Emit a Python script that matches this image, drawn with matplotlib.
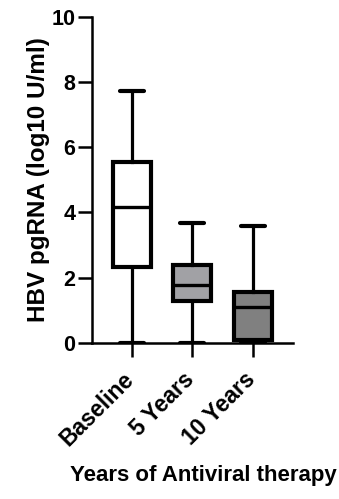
import matplotlib.pyplot as plt
from matplotlib.transforms import ScaledTranslation

plt.rcParams['font.family'] = ['Liberation Sans', 'DejaVu Sans']
plt.rcParams['font.weight'] = 'bold'

# box plot summary per group
groups = ['Baseline', '5 Years', '10 Years']
whisker_low = [0.0, 0.0, 0.0]
q1 = [2.33, 1.29, 0.09]
median = [4.17, 1.78, 1.10]
q3 = [5.55, 2.39, 1.56]
whisker_high = [7.73, 3.68, 3.59]
box_colors = ['white', '#a1a1a5', '#808080']

stats = []
for i in range(len(groups)):
    stats.append({'whislo': whisker_low[i], 'q1': q1[i], 'med': median[i],
                  'q3': q3[i], 'whishi': whisker_high[i], 'fliers': []})

fig = plt.figure(figsize=(3.39, 4.99), dpi=100)
ax = fig.add_axes([0.271, 0.313, 0.593, 0.653])

bp = ax.bxp(stats, positions=[1, 2, 3], widths=0.63, capwidths=0.4,
            patch_artist=True, showfliers=False,
            boxprops=dict(linewidth=3.0, edgecolor='black'),
            medianprops=dict(linewidth=2.4, color='black'),
            whiskerprops=dict(linewidth=2.3, color='black'),
            capprops=dict(linewidth=3.0, color='black', solid_capstyle='round'))
for patch, c in zip(bp['boxes'], box_colors):
    patch.set_facecolor(c)

ax.set_xlim(0.34, 3.66)
ax.set_ylim(0, 10)
ax.set_yticks([0, 2, 4, 6, 8, 10])
ax.set_xticks([1, 2, 3])
ax.set_xticklabels(groups, rotation=45, ha='right', rotation_mode='anchor')
ax.tick_params(axis='both', width=1.8, length=10, direction='out')
ax.tick_params(axis='y', labelsize=15.5, pad=2)
ax.tick_params(axis='x', labelsize=16.5, pad=8)

# nudge the rotated labels left so their ends sit under the ticks
shift = ScaledTranslation(-0.095, 0, fig.dpi_scale_trans)
for lab in ax.get_xticklabels():
    lab.set_transform(lab.get_transform() + shift)

for side in ['top', 'right']:
    ax.spines[side].set_visible(False)
for side in ['left', 'bottom']:
    ax.spines[side].set_linewidth(1.8)
    ax.spines[side].set_clip_on(False)

ax.set_ylabel('HBV pgRNA (log10 U/ml)', fontsize=17.5, fontweight='bold')
ax.yaxis.set_label_coords(-0.21, 0.5)
ax.set_xlabel('Years of Antiviral therapy', fontsize=16, fontweight='bold')
ax.xaxis.set_label_coords(0.555, -0.375)

fig.savefig('out.png', dpi=100)
